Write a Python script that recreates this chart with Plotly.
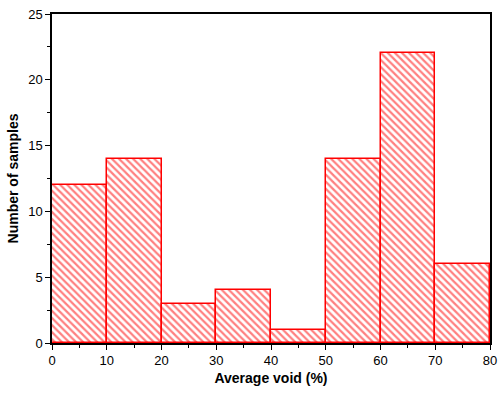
import plotly.graph_objects as go

bin_starts = [0, 10, 20, 30, 40, 50, 60, 70]
bin_width = 10
counts = [12, 14, 3, 4, 1, 14, 22, 6]
x_ticks = [0, 10, 20, 30, 40, 50, 60, 70, 80]
y_ticks = [0, 5, 10, 15, 20, 25]

centers = [s + bin_width / 2 for s in bin_starts]

fig = go.Figure(go.Bar(
    x=centers, y=counts, width=[bin_width] * len(counts),
    marker=dict(color="white", line=dict(color="#ff0000", width=1.5),
                pattern=dict(shape="\\", fgcolor="#ff0000", bgcolor="white",
                             size=5, solidity=0.45)),
))

font = "Liberation Sans, Arial, sans-serif"
fig.update_layout(
    width=504, height=396,
    margin=dict(l=52, r=7, t=13, b=53),
    plot_bgcolor="white", paper_bgcolor="white",
    showlegend=False, bargap=0,
    font=dict(family=font, size=13, color="black"),
)
fig.update_xaxes(
    range=[0, 80], tickvals=x_ticks, ticks="outside", ticklen=5, tickwidth=1.2,
    tickcolor="black",
    showgrid=False, zeroline=False, showline=True, linecolor="black", linewidth=1.5,
    mirror=True,
    minor=dict(ticks="outside", ticklen=3, tickwidth=1.2, tickcolor="black",
               dtick=5, tick0=0, showgrid=False),
    title=dict(text="<b>Average void (%)</b>", font=dict(size=14), standoff=6),
    tickfont=dict(size=13),
)
fig.update_yaxes(
    range=[0, 25], tickvals=y_ticks, ticks="outside", ticklen=5, tickwidth=1.2,
    tickcolor="black",
    showgrid=False, zeroline=False, showline=True, linecolor="black", linewidth=1.5,
    mirror=True,
    minor=dict(ticks="outside", ticklen=3, tickwidth=1.2, tickcolor="black",
               dtick=2.5, tick0=0, showgrid=False),
    title=dict(text="<b>Number of samples</b>", font=dict(size=14), standoff=6),
    tickfont=dict(size=13),
)
fig.write_html("out.html")
